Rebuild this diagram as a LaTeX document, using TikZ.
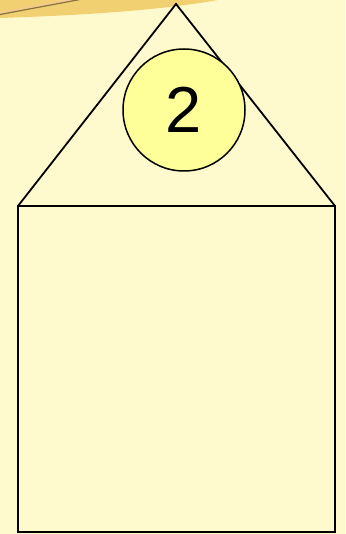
\documentclass[tikz,border=0pt]{standalone}
\usepackage{fontspec}
\setmainfont{Liberation Sans}
\definecolor{bg}{HTML}{FFFACD}
\definecolor{band}{HTML}{F0D070}
\definecolor{ball}{HTML}{FFFF99}
\tikzset{
  outline/.style={draw=black, line width=1.8pt, line join=miter},
  ballnode/.style={circle, draw=black, line width=1.5pt, fill=ball, minimum size=122pt, inner sep=0pt, font=\fontsize{65}{65}\selectfont}
}
\begin{document}
\begin{tikzpicture}[x=1pt,y=-1pt]
\fill[bg] (0,0) rectangle (345,534);
\useasboundingbox (0,0) rectangle (345,534);
% gold band
\fill[band] (0,0) -- (218,0) .. controls (150,12) and (60,16) .. (0,18) -- cycle;
\draw[line width=1.2pt, draw=black!45!band] (0,14.5) -- (80,-0.5);
\draw[line width=0.8pt, draw=pink!70!band] (0,12.5) -- (72,-0.5);
% house
\coordinate (apex) at (176,4);
\coordinate (bl) at (18,206);
\coordinate (br) at (335,206);
\coordinate (bot) at (335,532);
\draw[outline] (bl) -- (apex) -- (br);
\draw[outline] (bl) rectangle (bot);
\node[ballnode] (n2) at (184,110) {2};
\end{tikzpicture}
\end{document}
